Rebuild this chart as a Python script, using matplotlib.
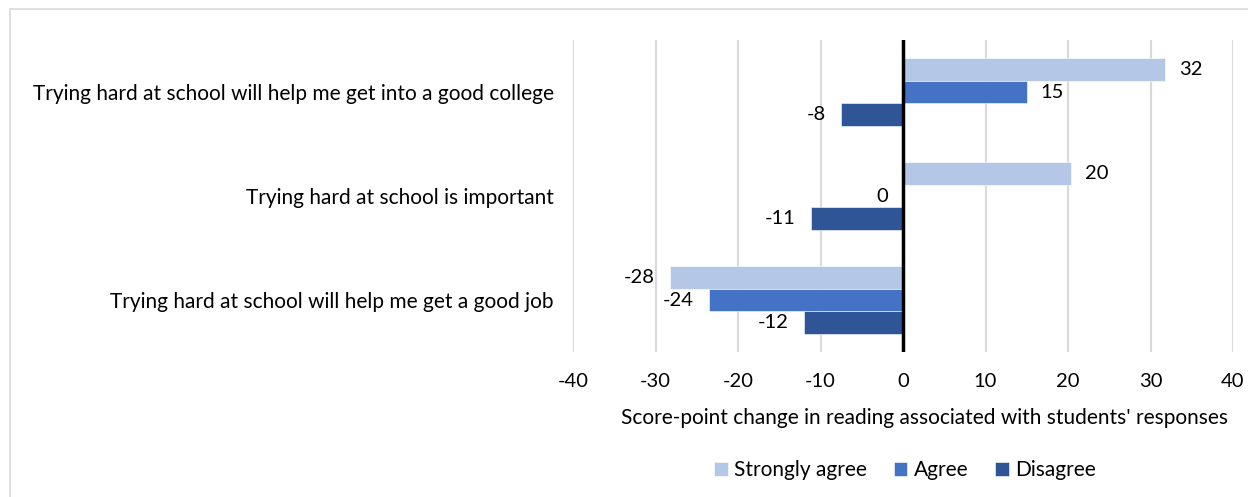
import numpy as np
import matplotlib.pyplot as plt
from matplotlib.patches import Rectangle

# data
categories = [
    "Trying hard at school will help me get into a good college",
    "Trying hard at school is important",
    "Trying hard at school will help me get a good job",
]
series_names = ["Strongly agree", "Agree", "Disagree"]
strongly_agree = [31.8, 20.4, -28.2]
agree = [15.0, 0.0, -23.5]
disagree = [-7.5, -11.2, -12.0]
x_ticks = [-40, -30, -20, -10, 0, 10, 20, 30, 40]

COLORS = ["#b4c7e7", "#4472c4", "#2f5597"]
FONT = "Lato"
TEXT_COLOR = "#000000"
FS = 15

plt.rcParams["font.family"] = [FONT, "DejaVu Sans"]

fig = plt.figure(figsize=(12.48, 4.97), dpi=100)
ax = fig.add_axes([573 / 1248, 1 - 352 / 497, 660 / 1248, 312 / 497])

# outer chart frame
fig.patches.append(Rectangle((10 / 1248, -0.05), 1.2, 1 - 9 / 497 + 0.05,
                             transform=fig.transFigure, fill=False,
                             edgecolor="#d9d9d9", lw=1.2, zorder=0))

y = np.arange(len(categories))
h = 0.221
offsets = [-h, 0, h]

for vals, off, color, name in zip([strongly_agree, agree, disagree], offsets, COLORS, series_names):
    ax.barh(y + off, vals, height=h, color=color, label=name,
            edgecolor="white", linewidth=0.4, zorder=3)
    for v, yy in zip(vals, y + off):
        if v > 0:
            ax.annotate(f"{v:.0f}", (v, yy), xytext=(10, 0), textcoords="offset points",
                        ha="left", va="center", fontsize=FS - 0.5, color=TEXT_COLOR)
        else:
            ax.annotate(f"{v:.0f}", (v, yy), xytext=(-11, 0), textcoords="offset points",
                        ha="right", va="center", fontsize=FS - 0.5, color=TEXT_COLOR)

ax.set_xlim(-40, 40)
ax.set_ylim(len(categories) - 0.5, -0.5)
ax.set_xticks(x_ticks)
ax.set_xticklabels([str(t) for t in x_ticks], fontsize=FS - 0.5, color=TEXT_COLOR)
ax.set_yticks(y)
ax.set_yticklabels(categories, fontsize=FS, color=TEXT_COLOR)
ax.tick_params(axis="both", length=0)
ax.tick_params(axis="x", pad=15)
ax.tick_params(axis="y", pad=14)

ax.grid(axis="x", color="#d9d9d9", lw=1.5, zorder=0)
ax.axvline(0, color="black", lw=2.5, zorder=4)
for s in ax.spines.values():
    s.set_visible(False)

xl = ax.set_xlabel("Score-point change in reading associated with students' responses",
                   fontsize=FS, color=TEXT_COLOR, labelpad=13)
xl.set_x(0.533)

fig.legend(loc="center", bbox_to_anchor=(905 / 1248, 1 - 470 / 497), ncol=3,
           frameon=False, fontsize=FS, handlelength=0.65, handleheight=0.65,
           handletextpad=0.3, columnspacing=1.3)

fig.savefig("out.png", dpi=100)
